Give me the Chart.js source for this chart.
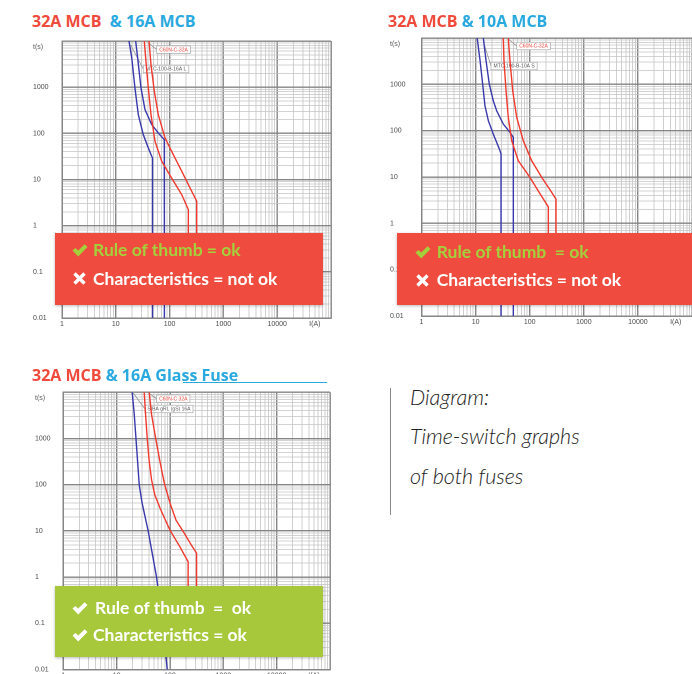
<!DOCTYPE html>
<html><head><meta charset="utf-8">
<script src="https://cdn.jsdelivr.net/npm/chart.js@4.4.1/dist/chart.umd.min.js"></script>
<style>
html,body{margin:0;padding:0;background:#fff;width:692px;height:674px;overflow:hidden;position:relative}
canvas{position:absolute}
.title{position:absolute;font-family:'Open Sans',sans-serif;font-weight:700;font-size:16px;line-height:20px;white-space:pre;color:#ef4a3c}
.title span{color:#29a9df}
.box{position:absolute;box-shadow:0 1px 3px rgba(0,0,0,.28)}
.txt{position:absolute;font-family:Lato,sans-serif;font-weight:700;font-size:17.5px;line-height:21px;white-space:pre;color:#fff}
svg.mk{position:absolute;overflow:visible}
.note{position:absolute;font-family:Lato,sans-serif;font-style:italic;font-weight:300;font-size:21.5px;line-height:24px;color:#222;white-space:pre}
</style></head><body>

<canvas id="c1" width="304" height="300" style="left:30px;top:34px;width:304px;height:300px"></canvas>
<canvas id="c2" width="307" height="300" style="left:387px;top:31px;width:307px;height:300px"></canvas>
<canvas id="c3" width="301" height="300" style="left:32px;top:385px;width:301px;height:300px"></canvas>

<div class="title" style="left:32px;top:10.5px">32A MCB <span> &amp; 16A MCB</span></div>
<div class="title" style="left:388px;top:10.5px">32A MCB <span>&amp; 10A MCB</span></div>
<div class="title" style="left:32px;top:364.8px">32A MCB <span>&amp; 16A Glass Fuse</span></div>
<div style="position:absolute;left:183px;top:381.5px;width:144px;height:1.3px;background:#29a9df"></div>

<div class="box" style="left:55px;top:233px;width:268px;height:72px;background:#ef4c3f"></div>
<svg class="mk" style="left:72px;top:244px" width="16" height="13" viewBox="0 0 16 13"><path d="M0.5 6.6 L3.4 3.9 L6.2 6.6 L12.6 0.3 L15.5 3.1 L6.2 12.5 Z" fill="#a4d03c"/></svg>
<div class="txt" style="left:93px;top:239.4px;color:#a4d03c">Rule of thumb = ok</div>
<svg class="mk" style="left:73px;top:272px" width="13" height="13" viewBox="0 0 13 13"><path d="M1.5 1.5 L11.5 11.5 M11.5 1.5 L1.5 11.5" stroke="#fff" stroke-width="3.4"/></svg>
<div class="txt" style="left:93px;top:267.7px">Characteristics = not ok</div>

<div class="box" style="left:397px;top:233px;width:310px;height:72px;background:#ef4c3f"></div>
<svg class="mk" style="left:415px;top:246px" width="16" height="13" viewBox="0 0 16 13"><path d="M0.5 6.6 L3.4 3.9 L6.2 6.6 L12.6 0.3 L15.5 3.1 L6.2 12.5 Z" fill="#a4d03c"/></svg>
<div class="txt" style="left:436.7px;top:241px;color:#a4d03c">Rule of thumb  = ok</div>
<svg class="mk" style="left:416px;top:274px" width="13" height="13" viewBox="0 0 13 13"><path d="M1.5 1.5 L11.5 11.5 M11.5 1.5 L1.5 11.5" stroke="#fff" stroke-width="3.4"/></svg>
<div class="txt" style="left:436.7px;top:269.4px">Characteristics = not ok</div>

<div class="box" style="left:55px;top:586px;width:268px;height:71px;background:#a6c83a"></div>
<svg class="mk" style="left:72px;top:601.5px" width="16" height="13" viewBox="0 0 16 13"><path d="M0.5 6.6 L3.4 3.9 L6.2 6.6 L12.6 0.3 L15.5 3.1 L6.2 12.5 Z" fill="#fff"/></svg>
<div class="txt" style="left:95px;top:597px">Rule of thumb  =  ok</div>
<svg class="mk" style="left:72px;top:628.5px" width="16" height="13" viewBox="0 0 16 13"><path d="M0.5 6.6 L3.4 3.9 L6.2 6.6 L12.6 0.3 L15.5 3.1 L6.2 12.5 Z" fill="#fff"/></svg>
<div class="txt" style="left:93px;top:624.4px">Characteristics = ok</div>

<div style="position:absolute;left:390px;top:388px;width:1px;height:127px;background:#888"></div>
<div class="note" style="left:410px;top:384.9px">Diagram:</div>
<div class="note" style="left:410px;top:423.9px">Time-switch graphs</div>
<div class="note" style="left:410px;top:463.9px">of both fuses</div>

<script>
// ---- axes ----
const decadesX = [1, 10, 100, 1000, 10000, 100000];
const xTickLabels = ['1', '10', '100', '1000', '10000', ''];
const decadesY = [0.01, 0.1, 1, 10, 100, 1000, 10000];
const yTickLabels = ['0.01', '0.1', '1', '10', '100', '1000', ''];
const xAxisTitle = 'I(A)';
const xAxisTitleAt = 50000;
const yAxisTitle = 't(s)';

// ---- chart 1 : 32A MCB (C60N-C-32A) & 16A MCB (MTC-100-B-16A) ----
const c1_mcb32_lo_I = [33.9, 35.9, 40.2, 45.1, 53.5, 71.3, 109, 168, 223, 223];
const c1_mcb32_lo_t = [10000, 4285, 961, 254, 67.5, 24.9, 10.8, 4.7, 2.23, 0.03];
const c1_mcb32_hi_I = [41.4, 45.1, 52, 61.6, 82.1, 117, 168, 239, 319, 319];
const c1_mcb32_hi_t = [10000, 3070, 815, 254, 79.6, 34.6, 15.1, 6.6, 3.39, 0.03];
const c1_mcb16_lo_I = [17.6, 19.8, 22.7, 26.2, 32.4, 40.2, 46.5, 48, 48];
const c1_mcb16_lo_t = [10000, 4285, 961, 254, 93.8, 48.3, 31.9, 29.4, 0.01];
const c1_mcb16_hi_I = [23.4, 25.5, 29.4, 34.9, 46.5, 61.6, 79.7, 80, 80];
const c1_mcb16_hi_t = [10000, 4285, 961, 326, 154, 102, 73, 70, 0.01];

// ---- chart 2 : 32A MCB & 10A MCB (MTC-100-B-10A) ----
const c2_mcb32_lo_I = [32.5, 33.5, 36.5, 40.2, 46.5, 61.6, 101, 144, 221, 221];
const c2_mcb32_lo_t = [10000, 3236, 728, 194, 60.5, 22.4, 9.8, 5.0, 2.27, 0.03];
const c2_mcb32_hi_I = [40.2, 43.2, 48.5, 57.5, 76.2, 109, 167, 255, 306, 306];
const c2_mcb32_hi_t = [10000, 3236, 728, 194, 60.5, 22.4, 9.8, 4.65, 3.33, 0.03];
const c2_mcb10_lo_I = [10.7, 12.1, 13.5, 14.9, 17.2, 21.2, 28.3, 29.5, 29.5];
const c2_mcb10_lo_t = [10000, 3236, 1014, 345, 164, 84.5, 36.8, 31.2, 0.01];
const c2_mcb10_hi_I = [13.9, 15.6, 17.9, 21.2, 24.5, 32.5, 43.2, 49.8, 49.8];
const c2_mcb10_hi_t = [10000, 3236, 1014, 443, 269, 139, 91.9, 71.6, 0.01];

// ---- chart 3 : 32A MCB & 16A glass fuse (SIBA gRL (gS) 16A) ----
const c3_mcb32_lo_I = [32.9, 34.9, 37.4, 40.8, 45.2, 52, 66, 99.5, 153, 219, 219];
const c3_mcb32_lo_t = [10000, 3274, 1025, 321, 126, 60, 30, 10.5, 4.55, 2.15, 0.03];
const c3_mcb32_hi_I = [40.8, 45.2, 53.8, 64.7, 78, 100, 130, 190, 250, 315, 315];
const c3_mcb32_hi_t = [10000, 3274, 1025, 321, 110, 40, 17, 8.5, 5, 3.3, 0.03];
const c3_fuse16_I = [19.6, 21.4, 23, 24.7, 26.5, 30, 39, 46, 56, 63, 71.4, 80, 88.7];
const c3_fuse16_t = [10000, 3274, 1025, 321, 100, 40, 10, 3.5, 1, 0.35, 0.1, 0.035, 0.01];

const RED = '#f0392c', BLUE = '#3838ad';

function isDecade(v) { const l = Math.log10(v); return Math.abs(l - Math.round(l)) < 1e-6; }
function tickList(decs) {
  const out = [];
  for (let i = 0; i < decs.length - 1; i++)
    for (let k = 1; k < 10; k++) out.push(Number((k * decs[i]).toPrecision(6)));
  out.push(decs[decs.length - 1]);
  return out;
}
function labelFor(v, decs, labels) {
  for (let i = 0; i < decs.length; i++) if (Math.abs(v - decs[i]) / decs[i] < 1e-6) return labels[i];
  return '';
}
function zip(I, t) { return I.map((x, i) => ({ x: x, y: t[i] })); }
function line(I, t, color) {
  return { data: zip(I, t), showLine: true, borderColor: color, borderWidth: 1.4, pointRadius: 0, fill: false, tension: 0 };
}

const notePlugin = {
  id: 'notes',
  beforeDatasetsDraw(chart, args, opts) {
    const { ctx, scales: { x, y } } = chart;
    ctx.save();
    ctx.font = '5px "Liberation Sans", Arial, sans-serif';
    ctx.textBaseline = 'middle'; ctx.textAlign = 'left';
    (opts.items || []).forEach(n => {
      const bx = x.getPixelForValue(n.I), by = y.getPixelForValue(n.t);
      const fx = x.getPixelForValue(n.fromI), fy = y.getPixelForValue(n.fromT);
      const w = ctx.measureText(n.text).width + 5, h = 7.5;
      ctx.strokeStyle = '#888'; ctx.lineWidth = 0.7;
      ctx.beginPath(); ctx.moveTo(fx, fy); ctx.lineTo(bx, by); ctx.stroke();
      ctx.fillStyle = '#fff'; ctx.fillRect(bx, by - h / 2, w, h);
      ctx.strokeStyle = '#aaa'; ctx.strokeRect(bx, by - h / 2, w, h);
      ctx.fillStyle = n.color; ctx.fillText(n.text, bx + 2.5, by + 0.3);
    });
    ctx.restore();
  },
  afterDraw(chart) {
    const { ctx, scales: { y } } = chart;
    ctx.save();
    ctx.fillStyle = '#555'; ctx.font = '7px "Liberation Sans", Arial, sans-serif';
    ctx.textBaseline = 'middle'; ctx.textAlign = 'left';
    ctx.fillText(yAxisTitle, y.left, y.getPixelForValue(decadesY[decadesY.length - 1]) + 6);
    ctx.restore();
  }
};

function build(id, g, datasets, notes) {
  const font = { size: 7, family: '"Liberation Sans", Arial, sans-serif' };
  new Chart(document.getElementById(id), {
    type: 'scatter',
    data: { datasets: datasets },
    plugins: [notePlugin],
    options: {
      responsive: false, animation: false, devicePixelRatio: 2,
      layout: { padding: { left: g.pl, right: g.pr, top: g.pt, bottom: 0 } },
      plugins: { legend: { display: false }, tooltip: { enabled: false }, notes: { items: notes } },
      scales: {
        x: {
          type: 'logarithmic', min: decadesX[0], max: decadesX[decadesX.length - 1],
          afterBuildTicks: s => { s.ticks = tickList(decadesX).map(v => ({ value: v })); },
          afterFit: s => { s.height = g.xh; },
          ticks: {
            autoSkip: false, maxRotation: 0, minRotation: 0, padding: 2, color: '#4a4a4a', font: font,
            callback: v => (Math.abs(v - xAxisTitleAt) < 1e-6 ? xAxisTitle : labelFor(v, decadesX, xTickLabels))
          },
          grid: { drawTicks: false, color: c => isDecade(c.tick.value) ? '#858585' : '#c4c4c4', lineWidth: c => isDecade(c.tick.value) ? 1.4 : 0.8 },
          border: { color: '#858585', width: 1.4 }
        },
        y: {
          type: 'logarithmic', min: decadesY[0], max: decadesY[decadesY.length - 1],
          afterBuildTicks: s => { s.ticks = tickList(decadesY).map(v => ({ value: v })); },
          afterFit: s => { s.width = g.yw; },
          ticks: {
            autoSkip: false, crossAlign: 'far', padding: 0, color: '#4a4a4a', font: font,
            callback: v => labelFor(v, decadesY, yTickLabels)
          },
          grid: { drawTicks: false, color: c => isDecade(c.tick.value) ? '#858585' : '#c4c4c4', lineWidth: c => isDecade(c.tick.value) ? 1.4 : 0.8 },
          border: { color: '#858585', width: 1.4 }
        }
      }
    }
  });
}

build('c1', { pl: 3, pr: 3, pt: 7, xh: 16, yw: 29 }, [
  line(c1_mcb32_lo_I, c1_mcb32_lo_t, RED),
  line(c1_mcb32_hi_I, c1_mcb32_hi_t, RED),
  line(c1_mcb16_lo_I, c1_mcb16_lo_t, BLUE),
  line(c1_mcb16_hi_I, c1_mcb16_hi_t, BLUE)
], [
  { text: 'C60N-C-32A', color: '#e8453a', I: 57.6, t: 6500, fromI: 41, fromT: 9000 },
  { text: 'MTC-100-B-16A L', color: '#555', I: 32.4, t: 2477, fromI: 18.9, fromT: 8194 }
]);

build('c2', { pl: 3, pr: 2, pt: 7, xh: 15, yw: 31.5 }, [
  line(c2_mcb32_lo_I, c2_mcb32_lo_t, RED),
  line(c2_mcb32_hi_I, c2_mcb32_hi_t, RED),
  line(c2_mcb10_lo_I, c2_mcb10_lo_t, BLUE),
  line(c2_mcb10_hi_I, c2_mcb10_hi_t, BLUE)
], [
  { text: 'C60N-C-32A', color: '#e8453a', I: 57.5, t: 6715, fromI: 40.2, fromT: 9515 },
  { text: 'MTC-100-B-10A S', color: '#555', I: 19.3, t: 2483, fromI: 13.9, fromT: 8319 }
]);

build('c3', { pl: 3, pr: 3, pt: 7.3, xh: 15.5, yw: 28.3 }, [
  line(c3_mcb32_lo_I, c3_mcb32_lo_t, RED),
  line(c3_mcb32_hi_I, c3_mcb32_hi_t, RED),
  line(c3_fuse16_I, c3_fuse16_t, BLUE)
], [
  { text: 'C60N-C 32A', color: '#e8453a', I: 56.1, t: 7268, fromI: 38.6, fromT: 9900 },
  { text: 'SIBA gRL (gS) 16A', color: '#555', I: 33.9, t: 4355, fromI: 20.5, fromT: 9657 }
]);
</script>
</body></html>
